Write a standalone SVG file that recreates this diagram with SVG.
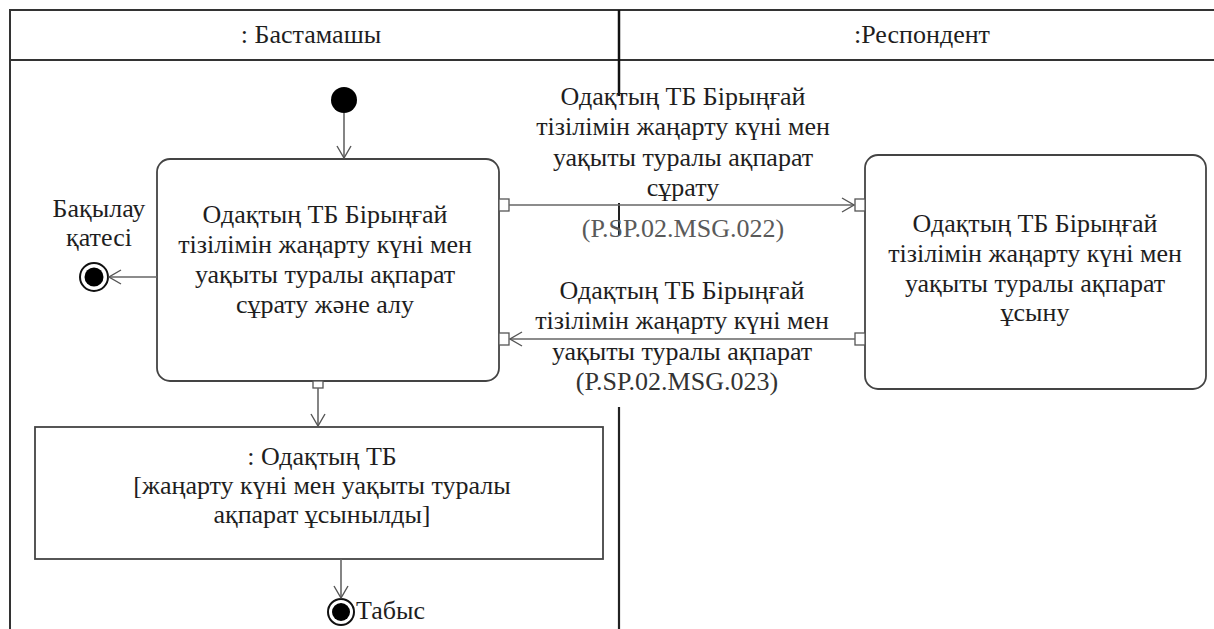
<svg xmlns="http://www.w3.org/2000/svg" width="1214" height="629" viewBox="0 0 1214 629" font-family="'Liberation Serif', Tinos, 'Times New Roman', 'DejaVu Serif', serif">
<defs>
<style>
text{font-family:"Liberation Serif",Tinos,"Times New Roman","DejaVu Serif",serif;font-size:26px;fill:#1e1e1e;text-anchor:middle}
.frame{fill:none;stroke:#333;stroke-width:2}
.box{fill:#fff;stroke:#444;stroke-width:1.8}
.pin{fill:#fff;stroke:#555;stroke-width:1.3}
.con{fill:none;stroke:#666;stroke-width:1.6}
.msg{fill:#5a5a5a}
</style>
<marker id="open" viewBox="0 0 14 16" refX="13" refY="8" markerWidth="14" markerHeight="16" markerUnits="userSpaceOnUse" orient="auto">
<path d="M1,1 L13,8 L1,15" fill="none" stroke="#555" stroke-width="1.4"/>
</marker>
</defs>
<rect width="1214" height="629" fill="#fff"/>
<g id="lanes">
<line class="frame" x1="10" y1="10" x2="1214" y2="10"/>
<line class="frame" x1="10" y1="60" x2="1214" y2="60"/>
<line class="frame" x1="10" y1="9" x2="10" y2="629"/>
<line x1="619" y1="10" x2="619" y2="96" stroke="#111" stroke-width="2.5"/>
<line x1="619" y1="203" x2="619" y2="235" stroke="#222" stroke-width="2"/>
<line x1="619" y1="407" x2="619" y2="629" stroke="#222" stroke-width="2.2"/>
<text x="311" y="43">: Бастамашы</text>
<text x="922" y="43">:Респондент</text>
</g>
<g id="start"><circle cx="344" cy="100" r="13" fill="#000"/></g>
<g id="errorEnd">
<circle cx="94" cy="277" r="14" fill="#fff" stroke="#111" stroke-width="2"/>
<circle cx="94" cy="277" r="9.5" fill="#000"/>
<text x="99" y="217">Бақылау</text>
<text x="99" y="246">қатесі</text>
</g>
<g id="actionA">
<rect class="box" x="157" y="159" width="342" height="222" rx="13"/>
<text x="325" y="223">Одақтың ТБ Бірыңғай</text>
<text x="325" y="253">тізілімін жаңарту күні мен</text>
<text x="325" y="283">уақыты туралы ақпарат</text>
<text x="325" y="313">сұрату және алу</text>
<rect class="pin" x="499" y="199" width="10" height="12"/>
<rect class="pin" x="499" y="333" width="10" height="12"/>
<rect class="pin" x="313" y="381" width="10" height="7"/>
</g>
<g id="actionB">
<rect class="box" x="865" y="155" width="341" height="234" rx="13"/>
<text x="1035" y="232">Одақтың ТБ Бірыңғай</text>
<text x="1035" y="262">тізілімін жаңарту күні мен</text>
<text x="1035" y="292">уақыты туралы ақпарат</text>
<text x="1035" y="321">ұсыну</text>
<rect class="pin" x="855" y="199" width="10" height="12"/>
<rect class="pin" x="855" y="333" width="10" height="12"/>
</g>
<g id="objectC">
<rect class="box" x="35" y="427" width="568" height="132"/>
<text x="322" y="465">: Одақтың ТБ</text>
<text x="322" y="494">[жаңарту күні мен уақыты туралы</text>
<text x="322" y="523">ақпарат ұсынылды]</text>
</g>
<g id="successEnd">
<circle cx="341" cy="612" r="13" fill="#fff" stroke="#111" stroke-width="2"/>
<circle cx="341" cy="612" r="9" fill="#000"/>
<text x="356" y="619" style="text-anchor:start">Табыс</text>
</g>
<g id="connectors">
<line class="con" x1="344" y1="113" x2="344" y2="158" marker-end="url(#open)"/>
<line class="con" x1="157" y1="277" x2="109" y2="277" marker-end="url(#open)"/>
<line class="con" x1="509" y1="205" x2="854" y2="205" marker-end="url(#open)"/>
<line class="con" x1="855" y1="339" x2="510" y2="339" marker-end="url(#open)"/>
<line class="con" x1="318" y1="388" x2="318" y2="426" marker-end="url(#open)"/>
<line class="con" x1="341" y1="559" x2="341" y2="598" marker-end="url(#open)"/>
<text x="683" y="105">Одақтың ТБ Бірыңғай</text>
<text x="683" y="135">тізілімін жаңарту күні мен</text>
<text x="683" y="166">уақыты туралы ақпарат</text>
<text x="683" y="196">сұрату</text>
<text class="msg" x="683" y="237">(P.SP.02.MSG.022)</text>
<text x="682" y="299">Одақтың ТБ Бірыңғай</text>
<text x="682" y="329">тізілімін жаңарту күні мен</text>
<text x="682" y="360">уақыты туралы ақпарат</text>
<text class="msg" x="677" y="390" style="fill:#333">(P.SP.02.MSG.023)</text>
</g>
</svg>
